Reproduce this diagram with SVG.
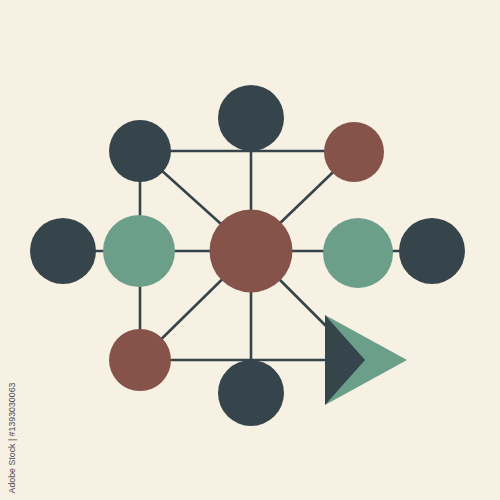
<svg xmlns="http://www.w3.org/2000/svg" width="500" height="500" viewBox="0 0 500 500">
<style>
.e{stroke:#36454c;stroke-width:2.6;fill:none;stroke-linecap:butt}
.d{fill:#36454c}.r{fill:#85534a}.t{fill:#6b9f8a}
.wm{font-family:"Liberation Sans",Arial,sans-serif;font-size:8.8px;fill:#4a4a4a}
</style>
<rect width="500" height="500" fill="#f7f1e3"/>
<g id="connectors">
<line class="e" x1="140" y1="151" x2="354" y2="151"/>
<line class="e" x1="251" y1="118" x2="251" y2="393"/>
<line class="e" x1="63" y1="251" x2="432" y2="251"/>
<line class="e" x1="140" y1="151" x2="140" y2="360"/>
<line class="e" x1="140" y1="360" x2="326" y2="360"/>
<line class="e" x1="140" y1="151" x2="251" y2="251"/>
<line class="e" x1="354" y1="152" x2="251" y2="251"/>
<line class="e" x1="140" y1="360" x2="251" y2="251"/>
<line class="e" x1="251" y1="251" x2="327" y2="327"/>
</g>
<g id="n-top"><circle class="d" cx="251" cy="118" r="33"/></g>
<g id="n-ul"><circle class="d" cx="140" cy="151" r="31"/></g>
<g id="n-ur"><circle class="r" cx="354" cy="152" r="30"/></g>
<g id="n-left"><circle class="d" cx="63" cy="251" r="33"/></g>
<g id="n-lt"><circle class="t" cx="139" cy="251" r="36"/></g>
<g id="n-center"><circle class="r" cx="251" cy="251" r="41.5"/></g>
<g id="n-rt"><circle class="t" cx="358" cy="253" r="35"/></g>
<g id="n-right"><circle class="d" cx="432" cy="251" r="33"/></g>
<g id="n-bl"><circle class="r" cx="140" cy="360" r="31"/></g>
<g id="n-bottom"><circle class="d" cx="251" cy="393" r="33"/></g>
<g id="n-arrow">
<polygon class="t" points="325,315 407,360 325,405"/>
<polygon class="d" points="325,315 365,360 325,405"/>
</g>
<text class="wm" transform="translate(14.5,438) rotate(-90)" text-anchor="middle">Adobe Stock | #1393030063</text>
</svg>
